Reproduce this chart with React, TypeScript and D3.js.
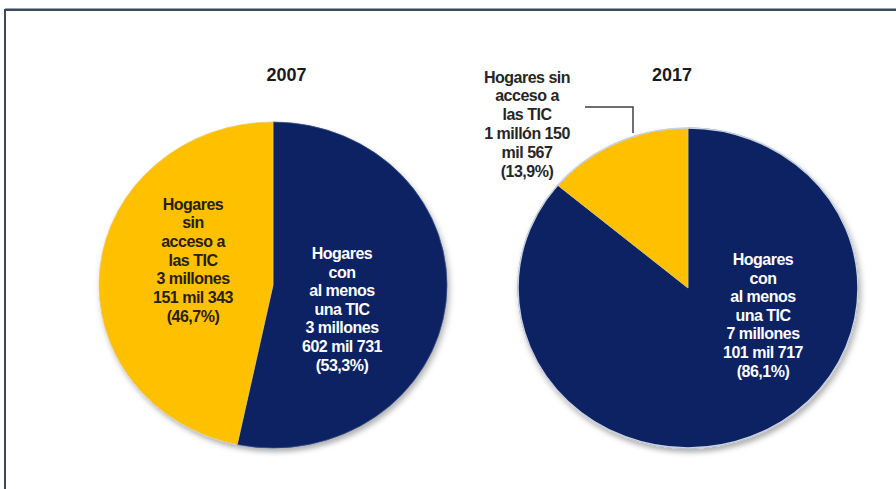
import React from "react";
import * as d3 from "d3";

const years = ["2007", "2017"];
const categories = ["Hogares con al menos una TIC", "Hogares sin acceso a las TIC"];
const values2007 = [53.3, 46.7];
const values2017 = [86.1, 13.9];
const labels2007 = [
  ["Hogares", "con", "al menos", "una TIC", "3 millones", "602 mil 731", "(53,3%)"],
  ["Hogares", "sin", "acceso a", "las TIC", "3 millones", "151 mil 343", "(46,7%)"],
];
const labels2017 = [
  ["Hogares", "con", "al menos", "una TIC", "7 millones", "101 mil 717", "(86,1%)"],
  ["Hogares sin", "acceso a", "las TIC", "1 millón 150", "mil 567", "(13,9%)"],
];

const COLORS = ["#0a2464", "#ffc000"];
const TEXT_COLORS = ["#ffffff", "#262010"];
const FONT = "'Liberation Sans', Arial, sans-serif";

type PieCfg = {
  title: string;
  values: number[];
  labels: string[][];
  cx: number;
  cy: number;
  rx: number;
  ry: number;
  titleX: number;
  labelPos: { x: number; y: number; lh: number; color: string }[];
  leader?: [number, number][];
  outline?: string;
};

const pies: PieCfg[] = [
  {
    title: years[0],
    values: values2007,
    labels: labels2007,
    cx: 273,
    cy: 285,
    rx: 174,
    ry: 163,
    titleX: 286.5,
    labelPos: [
      { x: 342, y: 259, lh: 18.6, color: TEXT_COLORS[0] },
      { x: 193, y: 209.5, lh: 18.7, color: TEXT_COLORS[1] },
    ],
  },
  {
    title: years[1],
    values: values2017,
    labels: labels2017,
    cx: 688,
    cy: 288,
    rx: 170,
    ry: 160,
    titleX: 672,
    labelPos: [
      { x: 763, y: 265, lh: 18.6, color: TEXT_COLORS[0] },
      { x: 527, y: 82.5, lh: 18.9, color: "#262626" },
    ],
    leader: [
      [585, 107],
      [633, 107],
      [633, 133],
    ],
    outline: "#c9d2e0",
  },
];

function Pie({ cfg }: { cfg: PieCfg }) {
  const pieGen = d3
    .pie<number>()
    .sort(null)
    .value((d) => d);
  const arcs = pieGen(cfg.values);
  const arcGen = d3.arc<d3.PieArcDatum<number>>().innerRadius(0).outerRadius(cfg.rx);
  const sy = cfg.ry / cfg.rx;
  return (
    <g>
      <text
        x={cfg.titleX}
        y={81}
        textAnchor="middle"
        fontFamily={FONT}
        fontWeight="bold"
        fontSize={18}
        fill="#1a1a1a"
      >
        {cfg.title}
      </text>
      <g transform={`translate(${cfg.cx},${cfg.cy}) scale(1,${sy})`} filter="url(#shadow)">
        {arcs.map((a, i) => (
          <path
            key={i}
            d={arcGen(a) || ""}
            fill={COLORS[i]}
            stroke={i === 1 ? "#e8c870" : "#3a4f80"}
            strokeWidth={0.8}
          />
        ))}
        {cfg.outline && (
          <ellipse cx={0} cy={0} rx={cfg.rx} ry={cfg.rx} fill="none" stroke={cfg.outline} strokeWidth={1.5} />
        )}
      </g>
      {cfg.leader && (
        <polyline
          points={cfg.leader.map((p) => p.join(",")).join(" ")}
          fill="none"
          stroke="#404040"
          strokeWidth={1.5}
        />
      )}
      {cfg.labels.map((lines, i) => {
        const p = cfg.labelPos[i];
        return (
          <text
            key={i}
            textAnchor="middle"
            fontFamily={FONT}
            fontWeight="bold"
            fontSize={16}
            letterSpacing={-0.5}
            fill={p.color}
            aria-label={categories[i]}
          >
            {lines.map((l, j) => (
              <tspan key={j} x={p.x} y={p.y + j * p.lh}>
                {l}
              </tspan>
            ))}
          </text>
        );
      })}
    </g>
  );
}

export default function App() {
  return (
    <svg
      width={896}
      height={489}
      style={{ position: "absolute", left: 0, top: 0, background: "#ffffff" }}
    >
      <defs>
        <filter id="shadow" x="-10%" y="-10%" width="125%" height="125%">
          <feDropShadow dx="2" dy="4" stdDeviation="3" floodColor="#000000" floodOpacity="0.3" />
        </filter>
      </defs>
      <rect x={0} y={0} width={896} height={489} fill="#ffffff" />
      <rect x={5} y={10} width={1000} height={600} fill="none" stroke="#3d4859" strokeWidth={2} />
      <line x1={5} y1={8.5} x2={896} y2={8.5} stroke="#9aa3b0" strokeWidth={1} />
      {pies.map((p, i) => (
        <Pie key={i} cfg={p} />
      ))}
    </svg>
  );
}
